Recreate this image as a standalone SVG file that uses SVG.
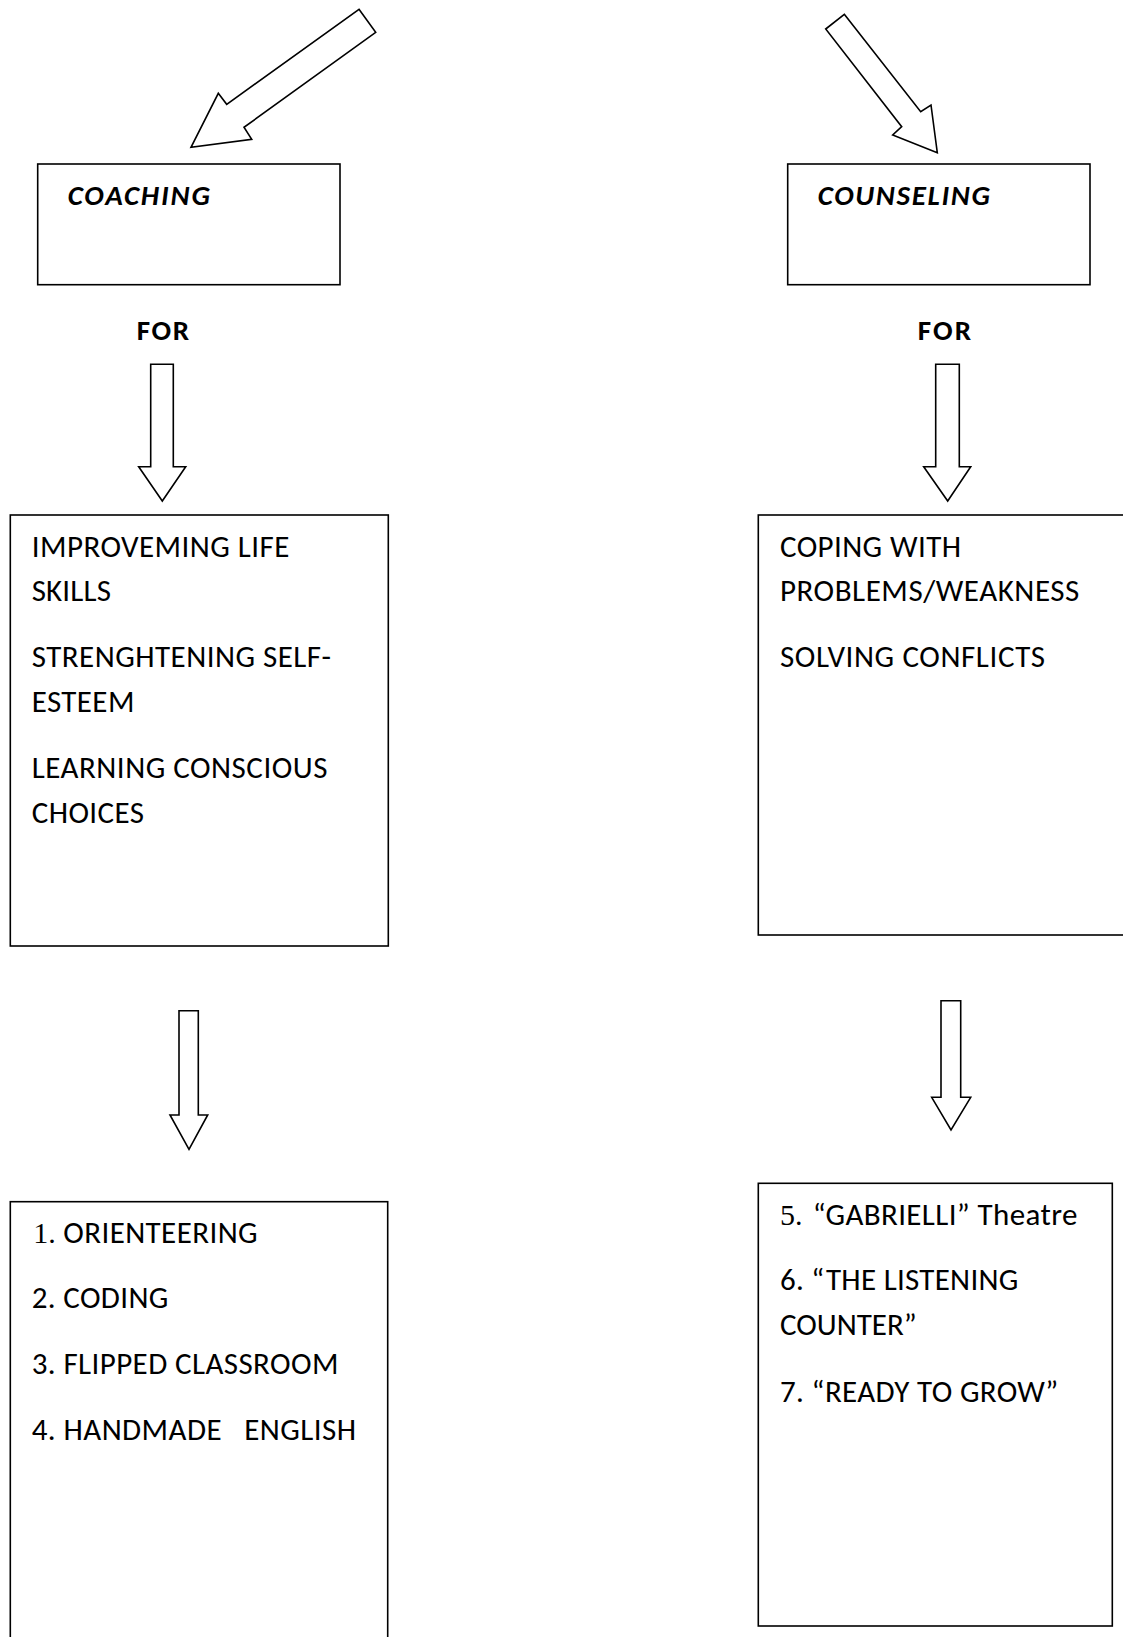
<svg xmlns="http://www.w3.org/2000/svg" width="1123" height="1637" viewBox="0 0 1123 1637">
  <style>
    .box { fill: #fff; stroke: #000; stroke-width: 1.6; }
    .arrow { fill: #fff; stroke: #000; stroke-width: 1.6; stroke-linejoin: miter; }
    .t { font-family: Carlito, Calibri, Lato, "Open Sans", sans-serif; font-size: 31px; fill: #000; }
    .head { font-family: Carlito, Calibri, Lato, "Open Sans", sans-serif; font-size: 29px; font-weight: bold; font-style: italic; fill: #000; }
    .for { font-family: Carlito, Calibri, Lato, "Open Sans", sans-serif; font-size: 29px; font-weight: bold; fill: #000; }
    .num { font-family: "Liberation Serif", "Times New Roman", serif; font-size: 30px; fill: #000; }
  </style>

  <!-- block arrows between the boxes -->
  <g id="connectors">
    <polygon class="arrow" points="359,9.3 375.7,32.3 244,127.3 251.7,139.3 191,147.3 218.3,93.3 226.7,104.3"/>
    <polygon class="arrow" points="844.3,14.3 920.7,111.7 931,105 937.3,152.7 892.7,135 901.7,126.7 825.7,29"/>
    <polygon class="arrow" points="150.7,364.3 173.3,364.3 173.3,466.7 185.7,466.7 162.3,501 138.7,466.7 150.7,466.7"/>
    <polygon class="arrow" points="935.7,364.3 959.3,364.3 959.3,466.7 970.7,466.7 947.7,501 923.7,466.7 935.7,466.7"/>
    <polygon class="arrow" points="179,1010.7 198.3,1010.7 198.3,1115 207.7,1115 189,1149.3 170,1115 179,1115"/>
    <polygon class="arrow" points="941,1000.7 960.7,1000.7 960.7,1097.3 970.7,1097.3 951,1130 931.7,1097.3 941,1097.3"/>
  </g>

  <!-- coaching column -->
  <g id="coaching">
    <rect class="box" x="37.7" y="164" width="302.3" height="120.7"/>
    <text class="head" x="67.7" y="205" textLength="142.3">COACHING</text>
  </g>
  <g id="coaching-for">
    <text class="for" x="136.7" y="340" textLength="52.3">FOR</text>
  </g>
  <g id="coaching-aims">
    <rect class="box" x="10.3" y="515" width="378" height="431"/>
    <text class="t" x="31.7" y="556.7" textLength="257.7">IMPROVEMING LIFE</text>
    <text class="t" x="31.7" y="601" textLength="79.3">SKILLS</text>
    <text class="t" x="31.7" y="666.7" textLength="299.3">STRENGHTENING SELF-</text>
    <text class="t" x="31.7" y="712.3" textLength="102.7">ESTEEM</text>
    <text class="t" x="31.7" y="778.3" textLength="295.7">LEARNING CONSCIOUS</text>
    <text class="t" x="31.7" y="823.3" textLength="112.3">CHOICES</text>
  </g>
  <g id="coaching-projects">
    <rect class="box" x="10.3" y="1201.7" width="377.4" height="450"/>
    <text class="num" x="33.3" y="1243.3">1.</text>
    <text class="t" x="63.3" y="1243.3" textLength="194.3">ORIENTEERING</text>
    <text class="t" x="31.7" y="1308.3" textLength="136.7">2. CODING</text>
    <text class="t" x="31.7" y="1374.3" textLength="306.7">3. FLIPPED CLASSROOM</text>
    <text class="t" x="31.7" y="1440" textLength="324.3" xml:space="preserve">4. HANDMADE   ENGLISH</text>
  </g>

  <!-- counseling column -->
  <g id="counseling">
    <rect class="box" x="787.7" y="164" width="302.3" height="120.7"/>
    <text class="head" x="817.7" y="205" textLength="172.3">COUNSELING</text>
  </g>
  <g id="counseling-for">
    <text class="for" x="917.7" y="340" textLength="53.3">FOR</text>
  </g>
  <g id="counseling-aims">
    <rect class="box" x="758.3" y="515" width="380" height="420"/>
    <text class="t" x="780" y="556.7" textLength="181">COPING WITH</text>
    <text class="t" x="780" y="601" textLength="299.3">PROBLEMS/WEAKNESS</text>
    <text class="t" x="780" y="666.7" textLength="265">SOLVING CONFLICTS</text>
  </g>
  <g id="counseling-projects">
    <rect class="box" x="758.3" y="1183.3" width="354" height="442.7"/>
    <text class="num" x="780" y="1225">5.</text>
    <text class="t" x="812.7" y="1225" textLength="264.7">“GABRIELLI” Theatre</text>
    <text class="t" x="780" y="1290" textLength="238.3">6. “THE LISTENING</text>
    <text class="t" x="780" y="1335" textLength="136.7">COUNTER”</text>
    <text class="t" x="780" y="1401.7" textLength="278.3">7. “READY TO GROW”</text>
  </g>
</svg>
